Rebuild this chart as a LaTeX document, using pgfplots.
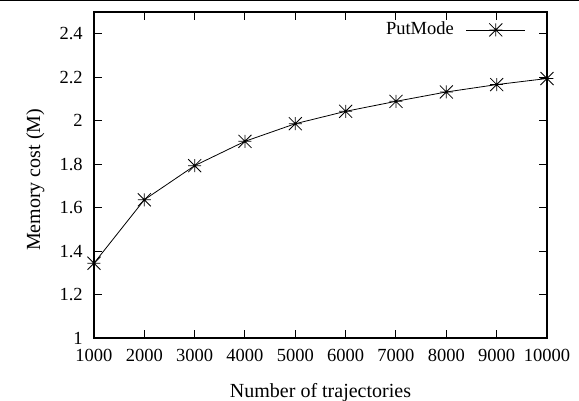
\documentclass[border=0pt]{standalone}
\usepackage{fontspec}
\setmainfont{Liberation Serif}
\usepackage{pgfplots}
\pgfplotsset{compat=1.18}
% gnuplot-style star: a plus overlaid with a cross
\pgfdeclareplotmark{gpstar}{%
  \pgfpathmoveto{\pgfqpoint{-\pgfplotmarksize}{0pt}}%
  \pgfpathlineto{\pgfqpoint{\pgfplotmarksize}{0pt}}%
  \pgfpathmoveto{\pgfqpoint{0pt}{-\pgfplotmarksize}}%
  \pgfpathlineto{\pgfqpoint{0pt}{\pgfplotmarksize}}%
  \pgfpathmoveto{\pgfqpoint{-\pgfplotmarksize}{-\pgfplotmarksize}}%
  \pgfpathlineto{\pgfqpoint{\pgfplotmarksize}{\pgfplotmarksize}}%
  \pgfpathmoveto{\pgfqpoint{-\pgfplotmarksize}{\pgfplotmarksize}}%
  \pgfpathlineto{\pgfqpoint{\pgfplotmarksize}{-\pgfplotmarksize}}%
  \pgfusepathqstroke}
\begin{document}
\fontsize{18.5}{22}\selectfont
\begin{tikzpicture}[x=1pt,y=1pt]
\useasboundingbox (0,0) rectangle (579,400);
\draw[line width=1.5pt] (0,399.25) -- (579,399.25);
\begin{axis}[
  at={(94pt,62pt)}, anchor=south west,
  scale only axis, width=453pt, height=326pt,
  xmin=1000, xmax=10000, ymin=1, ymax=2.5,
  xtick={1000,2000,3000,4000,5000,6000,7000,8000,9000,10000},
  ytick={1,1.2,1.4,1.6,1.8,2,2.2,2.4},
  scaled x ticks=false,
  tick align=inside, major tick length=8pt,
  tick style={line width=1pt, black},
  axis line style={line width=1.5pt},
  /pgf/number format/assume math mode=true,
  xticklabel style={/pgf/number format/1000 sep={}, yshift=-5pt},
  yticklabel style={xshift=-5pt},
  tick label style={font=\fontsize{18.5}{22}\selectfont},
  label style={font=\fontsize{20}{24}\selectfont},
  xlabel={Number of trajectories},
  ylabel={Memory cost (M)},
  xlabel style={at={(axis description cs:0.5,-0.181)}, anchor=base},
  ylabel style={at={(axis description cs:-0.119,0.485)}, anchor=base},
  legend plot pos=right,
  legend cell align=right,
  legend style={draw=none, fill=none, font=\fontsize{18.5}{22}\selectfont,
    column sep=10pt,
    at={(axis description cs:0.96,0.945)}, anchor=east},
  legend image code/.code={%
    \draw[mark repeat=2,mark phase=2] plot coordinates {(0pt,0pt) (29.5pt,0pt) (59pt,0pt)};},
]
\addplot[black, line width=0.8pt, mark=gpstar, mark size=6.5pt,
  mark options={line width=0.8pt}] coordinates {
  (1000,1.344) (2000,1.636) (3000,1.793) (4000,1.905) (5000,1.986)
  (6000,2.043) (7000,2.089) (8000,2.132) (9000,2.166) (10000,2.194)
};
\addlegendentry{PutMode}
\end{axis}
\end{tikzpicture}
\end{document}
